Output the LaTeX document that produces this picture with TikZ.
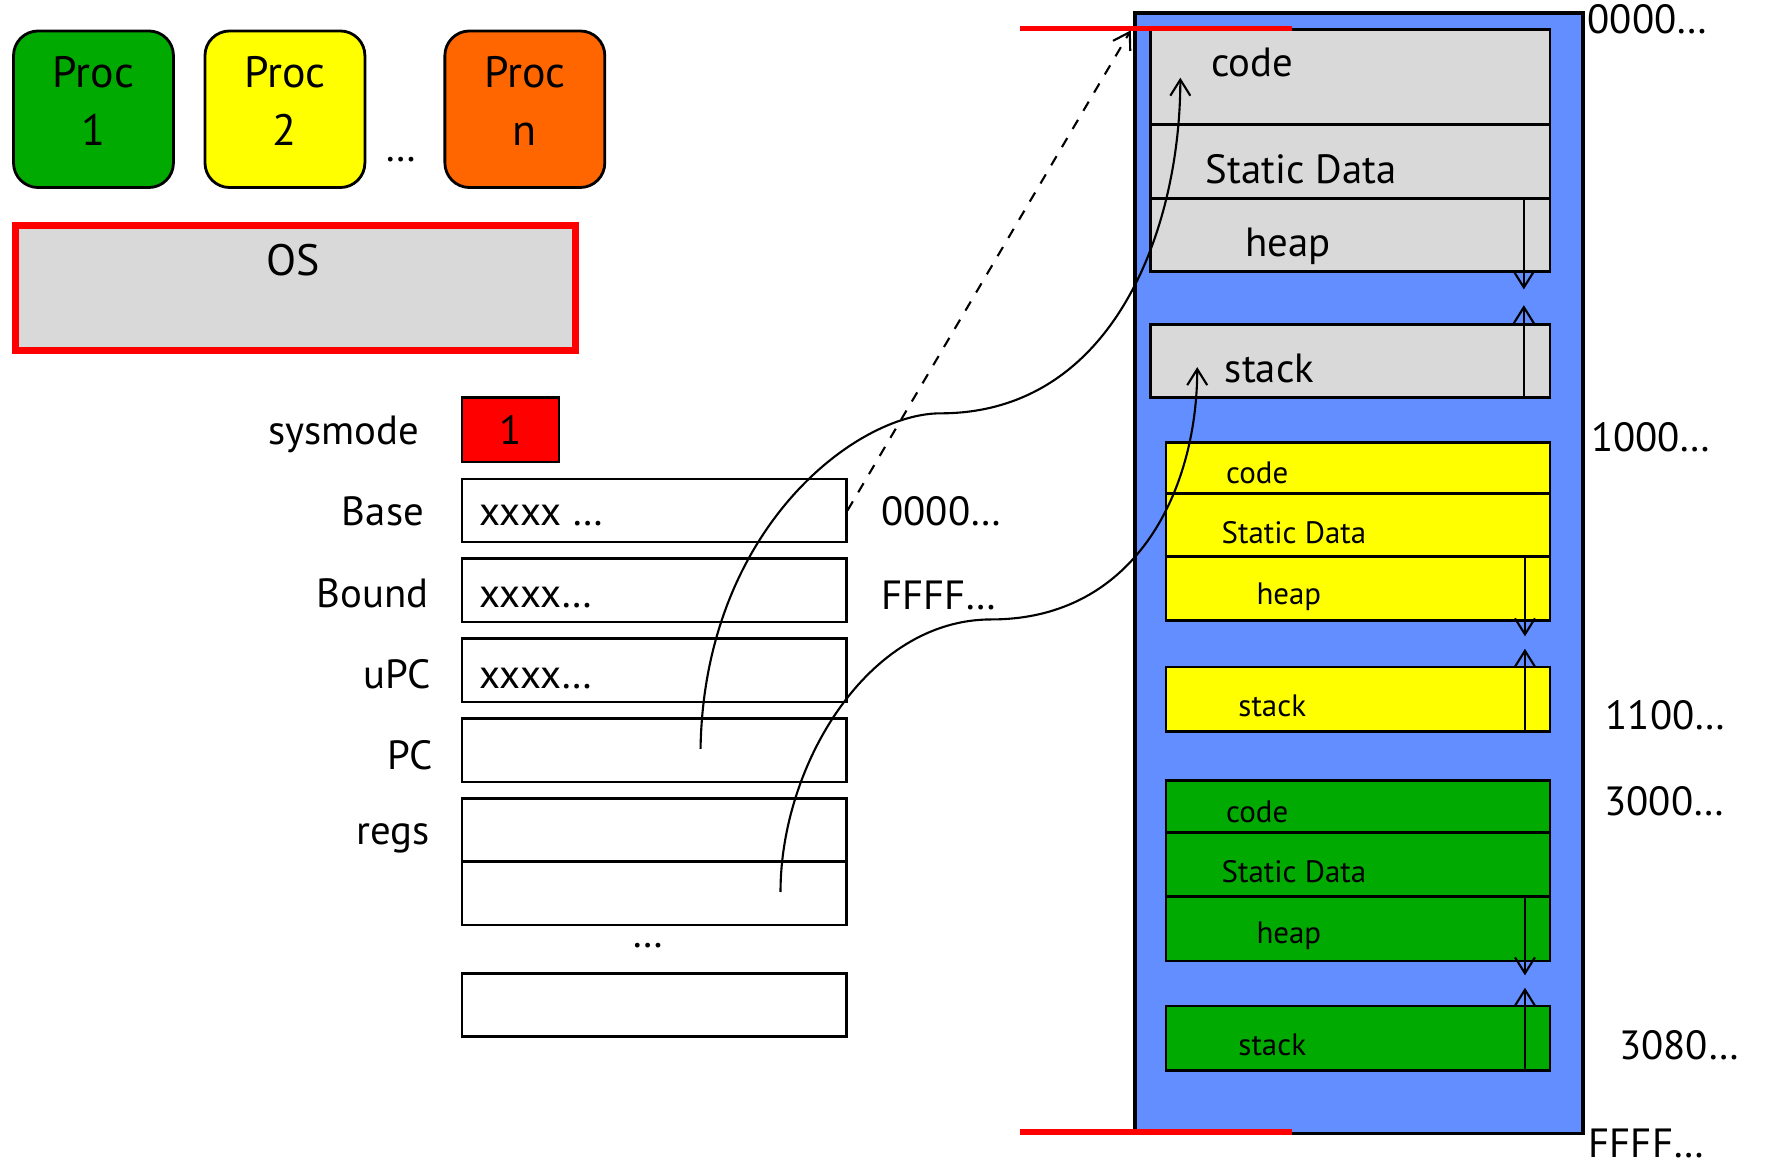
\documentclass[tikz,border=0pt]{standalone}
\usepackage{fontspec}
\setmainfont{PT Sans}
\usetikzlibrary{arrows.meta}

\newcommand{\mpx}{0.1126mm}
\definecolor{memblue}{RGB}{98,142,255}
\definecolor{memgray}{RGB}{217,217,217}
\definecolor{procgreen}{RGB}{0,170,0}
\definecolor{procyellow}{RGB}{255,255,0}
\definecolor{procorange}{RGB}{255,102,0}
\definecolor{osred}{RGB}{255,0,0}

\begin{document}
\begin{tikzpicture}[
    x=\mpx, y=-\mpx,
    procbox/.style={
        rectangle, rounded corners=7pt, draw=black, line width=0.8pt,
        minimum width=142*\mpx, minimum height=139*\mpx,
        align=center, inner sep=0pt, text depth=5pt,
        font=\fontsize{12.5}{16.5}\selectfont
    },
    regbox/.style={
        rectangle, draw=black, line width=0.8pt, fill=white,
        minimum width=341*\mpx, minimum height=56*\mpx,
        anchor=north west, inner sep=0pt
    },
    membox/.style={
        rectangle, draw=black, line width=0.8pt,
        anchor=north west, inner sep=0pt
    },
    % labels in the big font / small font
    lbl/.style={font=\fontsize{11.6}{14}\selectfont, inner sep=0pt},
    slbl/.style={font=\fontsize{8.8}{11}\selectfont, inner sep=0pt, anchor=base west},
    growarrow/.style={
        -{Straight Barb[length=1.6mm,width=2mm]}, line width=0.6pt
    },
    ptrline/.style={
        -{Straight Barb[length=1.6mm,width=2mm]}, line width=0.6pt
    },
    limitline/.style={osred, line width=1.5pt}
]
\useasboundingbox (0,0) rectangle (1568,1034);

% === Processes and OS ===
\node[procbox, fill=procgreen]  (proc1) at (83,97)  {Proc\\1};
\node[procbox, fill=procyellow] (proc2) at (253,97) {Proc\\2};
\node[procbox, fill=procorange] (procn) at (466,97) {Proc\\n};
\node[lbl] (procdots) at (356,142) {…};

\node[rectangle, draw=osred, line width=2pt, fill=memgray,
      minimum width=497*\mpx, minimum height=111*\mpx, anchor=north west] (os) at (11,197) {};
\node[lbl, font=\fontsize{12.5}{15}\selectfont] (ostxt) at (260,231) {OS};

% === Registers ===
\node[rectangle, draw=black, line width=0.8pt, fill=osred,
      minimum width=86*\mpx, minimum height=57*\mpx, anchor=north west] (sysbox) at (409,352) {};
\node[lbl] at (sysbox.center) {1};

\node[regbox] (base)  at (409,424) {};
\node[regbox] (bound) at (409,495) {};
\node[regbox] (upc)   at (409,566) {};
\node[regbox] (pc)    at (409,637) {};
\node[regbox] (regs1) at (409,708) {};
\node[regbox] (regs2) at (409,764) {};
\node[regbox] (regsn) at (409,863) {};
\node[lbl] (regdots) at (575,840) {…};

\node[lbl, anchor=base east] (sysl)   at (373,395) {sysmode};
\node[lbl, anchor=base east] (basel)  at (377,467) {Base};
\node[lbl, anchor=base east] (boundl) at (381,539) {Bound};
\node[lbl, anchor=base east] (upcl)   at (383,611) {uPC};
\node[lbl, anchor=base east] (pcl)    at (385,683) {PC};
\node[lbl, anchor=base east] (regsl)  at (382,750) {regs};

\node[lbl, anchor=base west] (basev)  at (425,467) {xxxx …};
\node[lbl, anchor=base west] (boundv) at (425,539) {xxxx…};
\node[lbl, anchor=base west] (upcv)   at (425,611) {xxxx…};

\node[lbl, anchor=base west] (basea)  at (782,467) {0000…};
\node[lbl, anchor=base west] (bounda) at (782,541) {FFFF…};

% === Physical memory ===
\node[membox, fill=memblue, line width=1pt,
      minimum width=398*\mpx, minimum height=995*\mpx] (mem) at (1006,10) {};

% OS image (gray)
\node[membox, fill=memgray, minimum width=355*\mpx, minimum height=84*\mpx] (gcode)  at (1020,25)  {};
\node[membox, fill=memgray, minimum width=355*\mpx, minimum height=66*\mpx] (gdata)  at (1020,109) {};
\node[membox, fill=memgray, minimum width=355*\mpx, minimum height=65*\mpx] (gheap)  at (1020,175) {};
\node[membox, fill=memgray, minimum width=355*\mpx, minimum height=65*\mpx] (gstack) at (1020,287) {};
\node[lbl, anchor=base west] at (1075,68)  {code};
\node[lbl, anchor=base west] at (1070,163) {Static Data};
\node[lbl, anchor=base west] at (1105,228) {heap};
\node[lbl, anchor=base west] at (1087,340) {stack};

% process 2 image (yellow)
\node[membox, fill=procyellow, minimum width=341*\mpx, minimum height=45*\mpx] (ycode)  at (1034,392) {};
\node[membox, fill=procyellow, minimum width=341*\mpx, minimum height=56*\mpx] (ydata)  at (1034,437) {};
\node[membox, fill=procyellow, minimum width=341*\mpx, minimum height=57*\mpx] (yheap)  at (1034,493) {};
\node[membox, fill=procyellow, minimum width=341*\mpx, minimum height=57*\mpx] (ystack) at (1034,591) {};
\node[slbl] at (1088,429) {code};
\node[slbl] at (1084,483) {Static Data};
\node[slbl] at (1115,537) {heap};
\node[slbl] at (1099,636) {stack};

% process 1 image (green)
\node[membox, fill=procgreen, minimum width=341*\mpx, minimum height=46*\mpx] (ncode)  at (1034,692) {};
\node[membox, fill=procgreen, minimum width=341*\mpx, minimum height=57*\mpx] (ndata)  at (1034,738) {};
\node[membox, fill=procgreen, minimum width=341*\mpx, minimum height=57*\mpx] (nheap)  at (1034,795) {};
\node[membox, fill=procgreen, minimum width=341*\mpx, minimum height=57*\mpx] (nstack) at (1034,892) {};
\node[slbl] at (1088,730) {code};
\node[slbl] at (1084,784) {Static Data};
\node[slbl] at (1115,838) {heap};
\node[slbl] at (1099,937) {stack};

% heap / stack growth
\coordinate (gheaptip)  at (1353,257);
\coordinate (gstacktip) at (1353,271);
\coordinate (yheaptip)  at (1354,565);
\coordinate (ystacktip) at (1354,576);
\coordinate (nheaptip)  at (1354,866);
\coordinate (nstacktip) at (1354,877);
\draw[growarrow] (gheap.north -| gheaptip) -- (gheaptip);
\draw[growarrow] (gstack.south -| gstacktip) -- (gstacktip);
\draw[growarrow] (yheap.north -| yheaptip) -- (yheaptip);
\draw[growarrow] (ystack.south -| ystacktip) -- (ystacktip);
\draw[growarrow] (nheap.north -| nheaptip) -- (nheaptip);
\draw[growarrow] (nstack.south -| nstacktip) -- (nstacktip);

% address labels
\node[lbl, anchor=base west] (a0000) at (1409,30)   {0000…};
\node[lbl, anchor=base west] (a1000) at (1412,401)  {1000…};
\node[lbl, anchor=base west] (a1100) at (1425,648)  {1100…};
\node[lbl, anchor=base west] (a3000) at (1424,724)  {3000…};
\node[lbl, anchor=base west] (a3080) at (1437,941)  {3080…};
\node[lbl, anchor=base west] (affff) at (1410,1028) {FFFF…};

% limits of the running process
\coordinate (toplimL) at (906,25);
\coordinate (toplimR) at (1147,25);
\coordinate (botlimL) at (906,1005);
\coordinate (botlimR) at (1147,1005);
\draw[limitline] (toplimL) -- (toplimR);
\draw[limitline] (botlimL) -- (botlimR);

% === Pointers ===
\coordinate (basetip) at (1004,27);
\draw[ptrline, dashed] (base.east) -- (basetip);

\coordinate (pcstart) at (622,665);
\coordinate (pcbend)  at (835,367);
\coordinate (codetip) at (1048,69);
\draw[ptrline] (pcstart) .. controls +(3,-195) and +(-75,0) .. (pcbend)
    .. controls +(155,0) and +(0,132) .. (codetip);

\coordinate (regstart) at (693,792);
\coordinate (regbend)  at (880,550);
\coordinate (stacktip) at (1063,326);
\draw[ptrline] (regstart) .. controls +(0,-112) and +(-110,0) .. (regbend)
    .. controls +(130,0) and +(0,107) .. (stacktip);

\end{tikzpicture}
\end{document}
